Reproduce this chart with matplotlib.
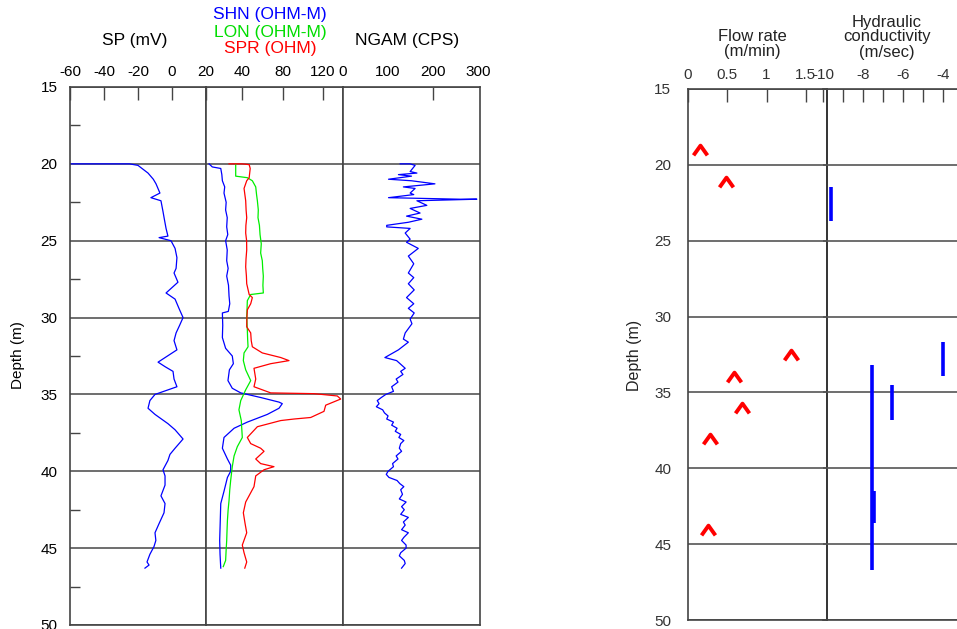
import numpy as np
import matplotlib
matplotlib.use("Agg")
import matplotlib.pyplot as plt
from matplotlib.ticker import MultipleLocator, FixedLocator

plt.rcParams['font.family'] = ['Liberation Sans', 'DejaVu Sans']
plt.rcParams['axes.unicode_minus'] = False

# ---- well log data (depth in m) ----
sp_depth = [20.0, 20.0, 20.1, 20.6, 21.0, 21.3, 21.9, 22.2, 22.4, 23.1,
            23.6, 24.2, 24.7, 24.8, 25.0, 25.5, 26.1, 26.8, 27.1, 27.7,
            28.4, 28.8, 29.4, 30.0, 30.5, 31.0, 31.5, 32.1, 32.9, 33.2,
            33.5, 34.0, 34.5, 35.0, 35.4, 35.9, 36.3, 36.9, 37.3, 37.9,
            38.5, 38.9, 39.3, 39.9, 40.3, 40.9, 41.6, 42.1, 42.7, 43.4,
            44.0, 44.5, 44.9, 45.4, 45.9, 46.1, 46.3]
sp_mv = [-60, -25, -20, -14.1, -11.0, -9.4, -7.1, -12.4, -6.5, -5.3,
         -4.5, -3.5, -2.4, -7.6, -0.6, 1.8, 2.9, 2.4, 1.2, 3.5,
         -3.5, 1.8, 4.1, 6.5, 4.5, 2.4, 1.2, 2.9, -8.2, -4.0,
         0.6, 1.2, 2.9, -10.0, -13.0, -14.1, -10.0, -2.4, 1.8, 6.5,
         1.8, -1.2, -2.4, -5.3, -4.1, -4.1, -6.5, -4.1, -4.7, -7.6,
         -10.0, -9.5, -10.6, -13.0, -14.7, -13.5, -15.9]

shn_depth = [20.0, 20.2, 20.3, 20.7, 21.1, 21.5, 21.9, 22.5, 23.0, 23.5,
             24.1, 24.6, 25.0, 25.6, 26.3, 26.8, 27.3, 27.9, 28.6, 29.1,
             29.6, 29.7, 30.5, 31.3, 32.0, 32.5, 33.0, 33.4, 34.1, 34.6,
             34.9, 35.2, 35.5, 35.6, 35.9, 36.3, 36.8, 37.2, 37.8, 38.5,
             39.2, 39.6, 40.0, 40.4, 41.3, 42.1, 42.9, 43.7, 44.5, 45.4, 46.3]
shn_ohmm = [21.7, 23.5, 28.2, 28.8, 29.1, 30.4, 30.0, 31.2, 30.9, 31.8,
            31.5, 32.1, 30.9, 31.8, 31.5, 32.3, 31.5, 32.5, 32.8, 33.2,
            32.4, 29.1, 29.3, 29.1, 30.9, 34.6, 35.2, 33.0, 32.2, 34.6,
            39.3, 58.2, 76.1, 79.3, 76.1, 64.7, 45.2, 35.6, 30.0, 29.1,
            31.9, 33.7, 33.7, 31.9, 30.0, 28.2, 28.0, 27.8, 27.6, 27.8, 28.2]

lon_depth = [20.0, 20.8, 20.9, 21.1, 21.5, 22.0, 22.4, 23.0, 23.5, 24.0,
             24.6, 25.2, 25.8, 26.3, 26.8, 27.3, 27.9, 28.4, 28.5, 28.9,
             29.5, 30.0, 30.8, 31.4, 31.9, 32.3, 32.8, 33.4, 34.1, 34.7,
             35.4, 36.0, 36.7, 37.8, 38.4, 39.0, 39.7, 40.6, 41.2, 41.9,
             42.5, 43.2, 43.8, 44.5, 45.1, 45.8, 46.2]
lon_ohmm = [36.5, 36.5, 45.2, 50.1, 53.4, 54.2, 55.0, 55.9, 55.6, 57.0,
            57.6, 58.8, 58.2, 59.8, 60.2, 60.8, 60.4, 60.8, 48.5, 45.2,
            44.9, 44.6, 45.2, 45.5, 45.9, 42.0, 41.3, 43.6, 48.5, 43.6,
            39.3, 38.3, 39.6, 40.3, 37.4, 35.6, 34.6, 33.7, 33.2, 32.8,
            32.3, 31.9, 31.7, 31.5, 31.2, 30.9, 29.6]

spr_depth = [20.0, 20.0, 20.05, 20.3, 20.9, 21.1, 21.6, 22.4, 23.0, 23.5,
             24.0, 24.5, 25.0, 25.6, 26.2, 26.7, 27.3, 27.8, 28.5, 28.7,
             29.1, 29.5, 30.0, 30.6, 31.0, 31.5, 31.9, 32.3, 32.6, 32.8,
             33.0, 33.3, 34.0, 34.5, 34.9, 34.95, 35.1, 35.3, 35.7, 36.1,
             36.5, 36.6, 36.7, 37.1, 37.8, 38.2, 38.5, 38.7, 39.2, 39.5,
             39.7, 39.9, 40.3, 41.0, 42.0, 42.7, 43.4, 44.0, 44.8, 45.3,
             45.9, 46.3]
spr_ohm = [32.8, 40.0, 47.0, 48.0, 47.0, 44.6, 42.0, 43.6, 44.0, 44.6,
           43.8, 43.6, 44.5, 44.6, 43.9, 43.6, 44.3, 44.6, 47.0, 50.1,
           48.5, 45.2, 44.8, 44.6, 48.5, 49.0, 50.1, 59.8, 77.8, 86.0,
           68.0, 51.7, 53.4, 51.7, 68.0, 111.0, 134.3, 137.7, 122.7, 121.0,
           107.7, 91.0, 77.8, 55.0, 45.2, 48.5, 58.2, 61.5, 53.4, 58.2,
           71.2, 61.5, 53.4, 51.7, 43.6, 41.3, 43.0, 44.6, 40.3, 42.0,
           44.6, 42.7]

ngam_depth = [20.0, 20.0, 20.1, 20.5, 20.6, 20.7, 20.8, 21.0, 21.1, 21.3,
              21.5, 21.6, 21.9, 22.0, 22.2, 22.3, 22.3, 22.4, 22.7, 22.9,
              23.2, 23.4, 23.6, 23.8, 24.0, 24.1, 24.2, 24.5, 24.9, 25.1,
              25.5, 26.0, 26.5, 27.1, 27.4, 27.8, 28.2, 28.7, 29.1, 29.4,
              29.7, 30.1, 30.4, 31.0, 31.4, 31.6, 32.1, 32.6, 32.8, 33.3,
              33.5, 33.7, 34.0, 34.2, 34.5, 34.8, 35.0, 35.2, 35.4, 35.6,
              35.8, 36.0, 36.2, 36.4, 36.6, 36.8, 37.0, 37.2, 37.4, 37.6,
              37.8, 38.0, 38.2, 38.5, 38.7, 39.0, 39.2, 39.5, 39.7, 40.0,
              40.2, 40.4, 40.6, 40.8, 41.0, 41.2, 41.5, 41.8, 42.0, 42.3,
              42.5, 42.8, 43.0, 43.3, 43.5, 43.8, 44.0, 44.3, 44.5, 44.8,
              45.0, 45.3, 45.5, 45.8, 46.0, 46.3]
ngam_cps = [127, 149, 160, 149, 164, 123, 152, 101, 152, 204,
            134, 160, 149, 157, 101, 260, 297, 164, 186, 149,
            171, 141, 175, 145, 97, 97, 149, 138, 149, 141,
            167, 145, 157, 145, 157, 145, 158, 141, 157, 145,
            158, 149, 153, 138, 134, 145, 123, 93, 119, 138,
            128, 133, 118, 122, 108, 112, 95, 85, 76, 80,
            74, 88, 92, 100, 97, 112, 108, 120, 116, 128,
            124, 135, 128, 125, 130, 118, 122, 110, 112, 100,
            96, 102, 120, 126, 135, 128, 132, 125, 140, 130,
            136, 128, 145, 134, 138, 130, 145, 135, 130, 140,
            140, 128, 125, 136, 138, 130]

# ---- flow / hydraulic conductivity data ----
flow_depth = [19.0, 21.1, 32.5, 34.0, 36.05, 38.1, 44.1]
flow_rate = [0.15, 0.49, 1.31, 0.59, 0.69, 0.28, 0.26]

k_log = [-9.6, -4.0, -7.55, -6.55, -7.45]
k_top = [21.45, 31.7, 33.2, 34.5, 41.5]
k_bottom = [23.7, 33.9, 46.7, 36.8, 43.6]

# resistivity track scale (uneven tick spacing in the original)
res_vals = [0, 20, 40, 80, 120, 140, 1000]
res_pos = [-36, 0, 36, 77, 117, 137, 997]


def res_fwd(v):
    return np.interp(v, res_vals, res_pos)


def res_inv(p):
    return np.interp(p, res_pos, res_vals)


W, H = 957, 629


def box(x0, y0, x1, y1):
    return [x0 / W, 1 - y1 / H, (x1 - x0) / W, (y1 - y0) / H]


grid_c = '#555555'
spine_c = '#444444'
blue, green, red = '#0000ff', '#00ee00', '#ff0000'
tick_fs = 11

fig = plt.figure(figsize=(9.57, 6.29), dpi=100)

ax_sp = fig.add_axes(box(70, 87, 206, 625))
ax_res = fig.add_axes(box(206, 87, 343, 625), sharey=ax_sp)
ax_ng = fig.add_axes(box(343, 87, 480, 625), sharey=ax_sp)

for ax in (ax_sp, ax_res, ax_ng):
    ax.set_ylim(50, 15)
    ax.yaxis.set_major_locator(MultipleLocator(5))
    ax.yaxis.set_minor_locator(MultipleLocator(2.5))
    ax.grid(axis='y', color=grid_c, lw=1.2)
    ax.xaxis.tick_top()
    ax.tick_params(axis='x', direction='in', length=9, width=1, color=spine_c,
                   labelsize=tick_fs, pad=6)
    ax.tick_params(axis='y', which='major', length=0, labelsize=tick_fs, pad=9)
    ax.tick_params(axis='y', which='minor', direction='in', length=0)
    for s in ax.spines.values():
        s.set_color(spine_c)
        s.set_linewidth(1.2)

ax_sp.tick_params(axis='y', which='minor', length=7, width=1, color=spine_c)
ax_res.tick_params(axis='y', labelleft=False)
ax_ng.tick_params(axis='y', labelleft=False)

# SP track
ax_sp.plot(sp_mv, sp_depth, color=blue, lw=0.9)
ax_sp.set_xlim(-60, 20)
ax_sp.set_xticks([-60, -40, -20, 0])

# resistivity track
ax_res.set_xscale('function', functions=(res_fwd, res_inv))
ax_res.plot(shn_ohmm, shn_depth, color=blue, lw=0.9)
ax_res.plot(lon_ohmm, lon_depth, color=green, lw=0.9)
ax_res.plot(spr_ohm, spr_depth, color=red, lw=0.9)
ax_res.set_xlim(20, 140)
ax_res.xaxis.set_major_locator(FixedLocator([20, 40, 80, 120]))
ax_res.set_xticklabels(['20', '40', '80', '120'])
ax_res.xaxis.set_minor_locator(FixedLocator([]))

# NGAM track
ax_ng.plot(ngam_cps, ngam_depth, color=blue, lw=0.9)
ax_ng.set_xlim(0, 304)
ax_ng.set_xticks([0, 100, 200, 300])
ax_ng.tick_params(axis='x', which='major', length=0)
ax_ng.xaxis.remove_overlapping_locs = False
ax_ng.xaxis.set_minor_locator(FixedLocator([200]))
ax_ng.tick_params(axis='x', which='minor', direction='in', length=9, width=1,
                  color=spine_c, top=True, bottom=False)

# ---- right panel ----
ax_fl = fig.add_axes(box(688, 89, 827, 620))
ax_k = fig.add_axes(box(823, 89, 957, 620), sharey=ax_fl)
ax_k.patch.set_alpha(0)

for ax in (ax_fl, ax_k):
    ax.set_ylim(50, 15)
    ax.yaxis.set_major_locator(MultipleLocator(5))
    ax.grid(axis='y', color=grid_c, lw=1.2)
    ax.xaxis.tick_top()
    ax.tick_params(axis='x', which='both', direction='in', length=9, width=1,
                   color=spine_c, labelsize=tick_fs, pad=5, labelcolor='#333333')
    ax.tick_params(axis='y', length=0, labelsize=tick_fs, pad=12,
                   labelcolor='#333333')
    for s in ax.spines.values():
        s.set_color(spine_c)
        s.set_linewidth(1.2)

ax_fl.spines['right'].set_color('#111111')
ax_k.spines['left'].set_visible(False)
ax_k.spines['right'].set_visible(False)
ax_k.tick_params(axis='y', labelleft=False)

caret = [(-1.0, -0.7), (0.0, 0.7), (1.0, -0.7)]
ax_fl.plot(flow_rate, flow_depth, ls='none', marker=caret, ms=10,
           mfc='none', mec=red, mew=2.8)
ax_fl.set_xlim(0, 1.77)
ax_fl.set_xticks([0, 0.5, 1, 1.5])
ax_fl.set_xticklabels(['0', '0.5', '1', '1.5'])

ax_k.vlines(k_log, k_top, k_bottom, color=blue, lw=2.6)
ax_k.set_xlim(-10, -3.3)
ax_k.set_xticks([-10, -8, -6, -4])
ax_k.xaxis.set_minor_locator(FixedLocator([-9, -7, -5]))

# ---- titles and axis labels ----
fs = 12.5
fig.text(135 / W, 1 - 40 / H, 'SP (mV)', ha='center', va='center', fontsize=fs)
fig.text(270 / W, 1 - 15 / H, 'SHN (OHM-M)', ha='center', va='center',
         fontsize=fs, color=blue)
fig.text(270 / W, 1 - 32 / H, 'LON (OHM-M)', ha='center', va='center',
         fontsize=fs, color='#00dd00')
fig.text(270 / W, 1 - 49 / H, 'SPR (OHM)', ha='center', va='center',
         fontsize=fs, color=red)
fig.text(407 / W, 1 - 40 / H, 'NGAM (CPS)', ha='center', va='center', fontsize=fs)
fig.text(752 / W, 1 - 44 / H, 'Flow rate\n(m/min)', ha='center', va='center',
         fontsize=12, color='#222222', linespacing=1.0)
fig.text(887 / W, 1 - 37 / H, 'Hydraulic\nconductivity\n(m/sec)', ha='center',
         va='center', fontsize=12, color='#222222', linespacing=1.0)
fig.text(18 / W, 1 - 355 / H, 'Depth (m)', rotation=90, ha='center',
         va='center', fontsize=11)
fig.text(635 / W, 1 - 355 / H, 'Depth (m)', rotation=90, ha='center',
         va='center', fontsize=11.5, color='#222222')

fig.savefig('out.png', dpi=100)
